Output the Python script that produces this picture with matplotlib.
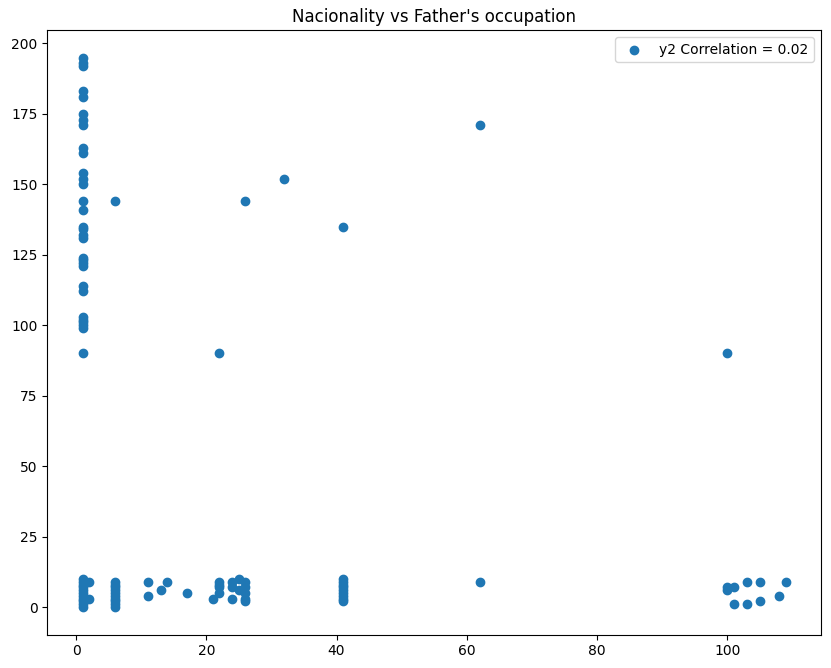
import matplotlib
matplotlib.use("Agg")
import matplotlib.pyplot as plt

x_vals = [1]*42 + [2,2] + [6]*11 + [11,11,13,14,17,21] + [22]*5 + [24]*3 + [25,25] + [26]*6 + [32] + [41]*10 + [62,62] + [100,100,100,101,101,103,103,105,105,108,109]
y_vals = ([0,1,2,3,4,5,6,7,8,9,10,90,99,100,101,102,103,112,114,121,122,123,124,131,132,134,135,141,144,150,152,154,161,163,171,173,175,181,183,192,193,195]
          + [3,9] + [0,1,2,3,4,5,6,7,8,9,144] + [4,9,6,9,5,3] + [5,7,8,9,90] + [3,7,9] + [6,10]
          + [2,3,5,7,9,144] + [152] + [2,3,4,5,6,7,8,9,10,135] + [9,171]
          + [6,7,90,1,7,1,9,2,9,4,9])
label = "y2 Correlation = 0.02"

fig, ax = plt.subplots(figsize=(8.31, 6.68), dpi=100)
fig.subplots_adjust(left=0.057, right=0.988, bottom=0.05, top=0.955)
ax.scatter(x_vals, y_vals, label=label)
ax.set_title("Nacionality vs Father's occupation")
ax.legend(loc="upper right")
fig.savefig("out.png", dpi=100)
